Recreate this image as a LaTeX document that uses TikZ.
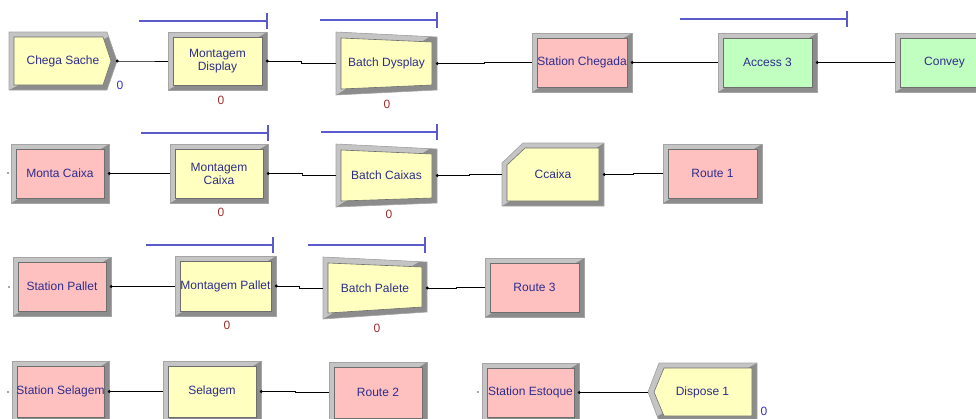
\documentclass[tikz,border=0pt]{standalone}
\usepackage{fontspec}
\setmainfont{Liberation Sans}
\usetikzlibrary{calc}
\definecolor{modyel}{RGB}{255,255,192}
\definecolor{modpink}{RGB}{255,192,192}
\definecolor{modgreen}{RGB}{192,255,192}
\definecolor{bevlight}{RGB}{196,196,196}
\definecolor{bevdark}{RGB}{140,140,140}
\definecolor{edgeline}{RGB}{165,165,165}
\definecolor{innerline}{RGB}{110,110,110}
\definecolor{txtblue}{RGB}{45,45,140}
\definecolor{qblue}{RGB}{90,90,205}
\definecolor{cntred}{RGB}{160,45,45}
\definecolor{cntblue}{RGB}{50,50,190}
\tikzset{
  modlabel/.style={inner sep=0pt, align=center, text=txtblue, font=\fontsize{12}{13}\selectfont},
  conn/.style={black, line width=0.8pt},
  queueline/.style={qblue, line width=1.2pt},
  cntr/.style={text=cntred, font=\fontsize{12}{13}\selectfont, inner sep=0pt},
  cntb/.style={text=cntblue, font=\fontsize{12}{13}\selectfont, inner sep=0pt},
  entrydot/.style={fill=black!70},
}
% #1 name, #2 outer path, #3 inner path, #4 fill, #5 x1, #6 y1, #7 x2, #8 y2, #9 text
\newcommand\armodp[9]{%
  \begin{scope}
    \fill[bevdark] #2;
    \clip (#5,#8) -- (#7,#6) -- (#5,#6) -- cycle;
    \fill[bevlight] #2;
  \end{scope}
  \filldraw[fill=#4, draw=innerline, line width=0.6pt] #3;
  \draw[edgeline, line width=0.6pt] #2;
  \node[modlabel, minimum width={#7pt-#5pt}, minimum height={#8pt-#6pt}] (#1) at ({(#5+#7)/2},{(#6+#8)/2}) {#9};
}
% #1 name, #2 x1, #3 y1, #4 x2, #5 y2, #6 fill, #7 text
\newcommand\armod[7]{%
  \armodp{#1}{(#2,#3) rectangle (#4,#5)}{($(#2,#3)+(5,5)$) rectangle ($(#4,#5)+(-5,-5)$)}{#6}{#2}{#3}{#4}{#5}{#7}}
\newcommand\arqueue[3]{%
  \draw[queueline] (#1,#3) -- (#2,#3);
  \draw[queueline] (#2,#3-8) -- (#2,#3+8);}
\newcommand\arconn[2]{%
  \draw[conn] (#1.east) -| ($(#1.east)!0.5!(#2.west)$) |- (#2.west);
  \fill (#1.east) circle (1.6);}
\begin{document}
\begin{tikzpicture}[x=1pt, y=-1pt]
\useasboundingbox (0,0) rectangle (976,418);
\clip (0,0) rectangle (976,418);
% ---------- row 1
\armodp{chega}{(9,32) -- (107,32) -- (117,61) -- (107,90) -- (9,90) -- cycle}{(14,37) -- (103,37) -- (111,61) -- (103,85) -- (14,85) -- cycle}{modyel}{9}{32}{117}{90}{Chega Sache}
\node[cntb] (c0) at (120,85) {0};
\armod{mdisp}{168}{32}{267}{90}{modyel}{Montagem\\Display}
\arqueue{139}{267}{21}
\node[cntr] (q1) at (221,100) {0};
\armodp{bdisp}{(336,32) -- (437,37) -- (437,90) -- (336,95) -- cycle}{(341,38) -- (432,42) -- (432,85) -- (341,89) -- cycle}{modyel}{336}{32}{437}{95}{Batch Dysplay}
\arqueue{320}{437}{20}
\node[cntr] (q2) at (387,104) {0};
\armod{stch}{532}{33}{632}{92}{modpink}{Station Chegada}
\armod{acc}{718}{33}{817}{92}{modgreen}{Access 3}
\arqueue{680}{847}{19}
\armod{conv}{895}{33}{994}{92}{modgreen}{Convey}
\arconn{chega}{mdisp}
\arconn{mdisp}{bdisp}
\arconn{bdisp}{stch}
\arconn{stch}{acc}
\arconn{acc}{conv}
% ---------- row 2
\armod{mcaixa}{11}{144}{109}{203}{modpink}{Monta Caixa}
\armod{mgcaixa}{170}{144}{268}{203}{modyel}{Montagem\\Caixa}
\arqueue{141}{268}{133}
\node[cntr] (q3) at (221,212) {0};
\armodp{bcaixa}{(336,144) -- (437,149) -- (437,203) -- (336,207) -- cycle}{(341,150) -- (432,154) -- (432,198) -- (341,201) -- cycle}{modyel}{336}{144}{437}{207}{Batch Caixas}
\arqueue{321}{437}{132}
\node[cntr] (q4) at (389,214) {0};
\armodp{ccaixa}{(502,163) -- (523,143) -- (604,143) -- (604,206) -- (502,206) -- cycle}{(507,165) -- (525,148) -- (599,148) -- (599,201) -- (507,201) -- cycle}{modyel}{502}{143}{604}{206}{Ccaixa}
\armod{route1}{663}{144}{762}{203}{modpink}{Route 1}
\fill[entrydot] (8,173) circle (0.8);
\arconn{mcaixa}{mgcaixa}
\arconn{mgcaixa}{bcaixa}
\arconn{bcaixa}{ccaixa}
\arconn{ccaixa}{route1}
% ---------- row 3
\armod{stpal}{13}{257}{111}{316}{modpink}{Station Pallet}
\armod{mpal}{175}{256}{276}{316}{modyel}{Montagem Pallet}
\arqueue{146}{273}{245}
\node[cntr] (q5) at (227,325) {0};
\armodp{bpal}{(323,257) -- (427,262) -- (427,312) -- (323,319) -- cycle}{(328,263) -- (422,267) -- (422,307) -- (328,313) -- cycle}{modyel}{323}{257}{427}{319}{Batch Palete}
\arqueue{308}{425}{245}
\node[cntr] (q6) at (377,328) {0};
\armod{route3}{485}{258}{584}{317}{modpink}{Route 3}
\fill[entrydot] (9,287) circle (0.8);
\arconn{stpal}{mpal}
\arconn{mpal}{bpal}
\arconn{bpal}{route3}
% ---------- row 4
\armod{stsel}{12}{361}{109}{422}{modpink}{Station Selagem}
\armod{sel}{163}{361}{261}{422}{modyel}{Selagem}
\armod{route2}{329}{362}{427}{423}{modpink}{Route 2}
\armod{stest}{482}{363}{579}{422}{modpink}{Station Estoque}
\armodp{disp}{(648,392) -- (659,363) -- (757,363) -- (757,421) -- (659,421) -- cycle}{(654,392) -- (664,368) -- (752,368) -- (752,416) -- (664,416) -- cycle}{modyel}{648}{363}{757}{421}{Dispose 1}
\node[cntb] (c1) at (764,411) {0};
\fill[entrydot] (8,392) circle (0.8);
\fill[entrydot] (478,392) circle (0.8);
\arconn{stsel}{sel}
\arconn{sel}{route2}
\arconn{stest}{disp}
\end{tikzpicture}
\end{document}
